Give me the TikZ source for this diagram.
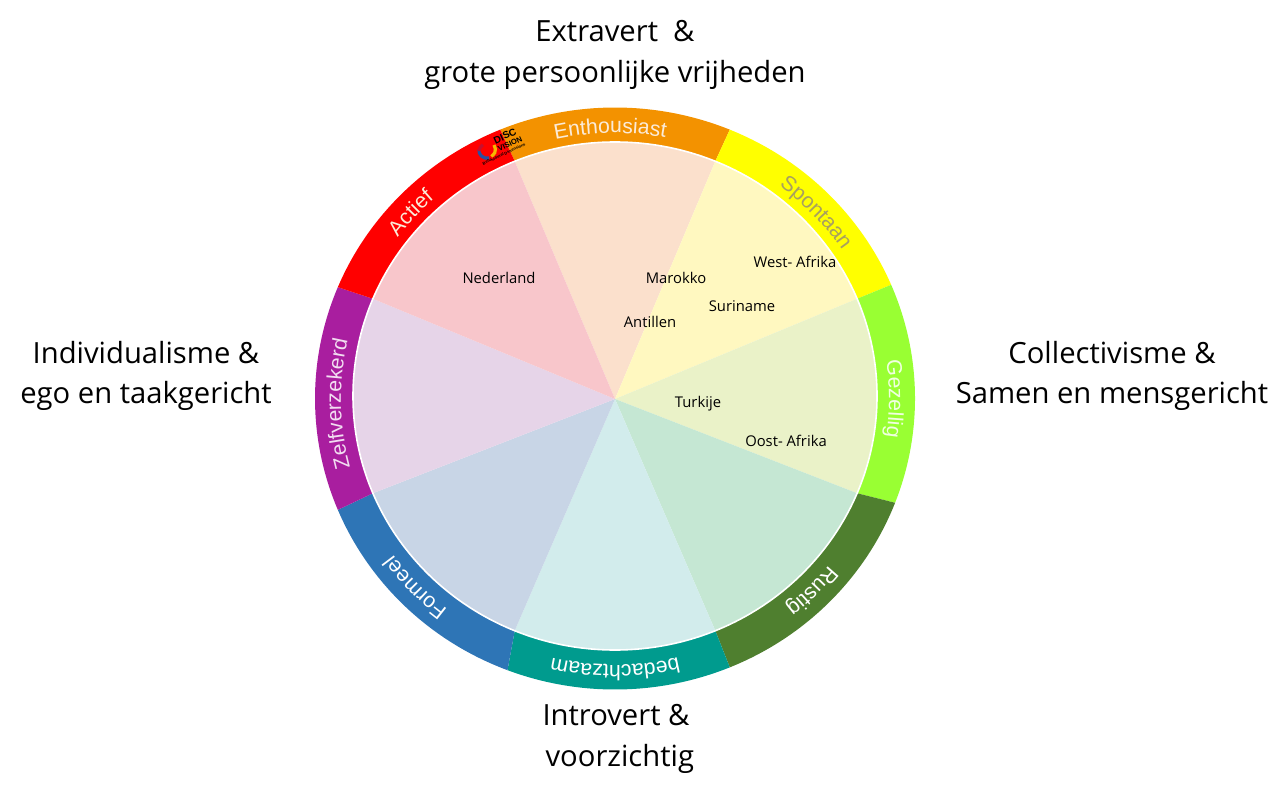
\documentclass[tikz,border=0pt]{standalone}
\usepackage{fontspec}
\setmainfont{Open Sans}
\newfontfamily\ringfont{Liberation Sans}
\usetikzlibrary{calc,decorations.text}

\definecolor{wheelred}{HTML}{FF0000}
\definecolor{wheelorange}{HTML}{F39200}
\definecolor{wheelyellow}{HTML}{FFFF00}
\definecolor{wheellime}{HTML}{99FF33}
\definecolor{wheelgreen}{HTML}{4F7F2F}
\definecolor{wheelteal}{HTML}{009B8E}
\definecolor{wheelblue}{HTML}{2E75B6}
\definecolor{wheelpurple}{HTML}{A91E9F}
\definecolor{palered}{HTML}{F8C6CB}
\definecolor{paleorange}{HTML}{FBE0CC}
\definecolor{paleyellow}{HTML}{FFF8C0}
\definecolor{palelime}{HTML}{EAF2C8}
\definecolor{palegreen}{HTML}{C5E7D3}
\definecolor{paleteal}{HTML}{D2ECEC}
\definecolor{paleblue}{HTML}{C8D5E6}
\definecolor{palepurple}{HTML}{E6D4E8}
\definecolor{ringgrey}{HTML}{A8A060}
\definecolor{ringcream}{HTML}{FBEBD8}
\definecolor{logoyellow}{HTML}{F5B800}
\definecolor{logoblue}{HTML}{2B4FA0}
\definecolor{logored}{HTML}{C8102E}

\tikzset{
  heading/.style={align=center, font=\fontsize{14.6}{20.2}\selectfont, text=black, inner sep=0pt},
  country/.style={font=\fontsize{7.4}{9}\selectfont, text=black, inner sep=0pt},
  logotext/.style={font=\ringfont\bfseries\fontsize{#1}{#1}\selectfont, text=black, inner sep=0pt, rotate=25},
  logoarc/.style={line width=1.6pt},
}

\begin{document}
\begin{tikzpicture}[x=0.5pt, y=-0.5pt]
\useasboundingbox (0,0) rectangle (1288,796);

% Wheel
\coordinate (hub) at (615,399);
\coordinate (rimhub) at (615,398.5);
\coordinate (innerhub) at (615,396);
\foreach \from/\to/\outfrom/\outto/\ringcol/\palecol in {
  67.5/112.5/67.5/112.5/wheelorange/paleorange, 22.5/67.5/23/67.5/wheelyellow/paleyellow,
  -22.5/22.5/-21/23/wheellime/palelime, -67.5/-22.5/-67.5/-21/wheelgreen/palegreen,
  -112.5/-67.5/-111/-67.5/wheelteal/paleteal, -157.5/-112.5/-157.5/-111/wheelblue/paleblue,
  157.5/202.5/157.5/202.5/wheelpurple/palepurple, 112.5/157.5/112.5/157.5/wheelred/palered} {
  % y axis points down, so the angles are mirrored here
  \fill[\ringcol] ($(rimhub)+({300*cos(\outfrom)},{-291*sin(\outfrom)})$)
    arc[start angle=-\outfrom, end angle=-\outto, x radius=300, y radius=291]
    -- ($(innerhub)+({262*cos(\to)},{-254*sin(\to)})$)
    arc[start angle=-\to, end angle=-\from, x radius=262, y radius=254] -- cycle;
  \fill[\palecol] (hub) -- ($(innerhub)+({262*cos(\from)},{-254*sin(\from)})$)
    arc[start angle=-\from, end angle=-\to, x radius=262, y radius=254] -- cycle;
}
\draw[white, line width=0.8pt] (innerhub) ellipse[x radius=262, y radius=254];

% Ring labels
\foreach \from/\to/\ringcol/\ringtext in {
  160/114/ringcream/Actief, 113/69/ringcream/Enthousiast, 65.5/21.5/ringgrey/Spontaan,
  22/-22/white!85!wheellime/Gezellig, -23/-67/white/Rustig, -68/-112/white/bedachtzaam,
  -114/-158/white/Formeel, -157/-201/white!85!wheelpurple/Zelfverzekerd} {
  \path[decorate, decoration={text along path, text align=center, raise=0pt,
      text={|\ringfont\fontsize{10.6}{10.6}\selectfont\color{\ringcol}|\ringtext}}]
    ($(hub)+({274*cos(\from)},{-266*sin(\from)})$)
    arc[start angle=-\from, end angle=-\to, x radius=274, y radius=266];
}

% Logo
\coordinate (logohub) at (487,150);
\draw[logoarc, logoyellow] ($(logohub)+(7,-5)$) arc[start angle=-35, end angle=60, radius=8];
\draw[logoarc, logoblue] ($(logohub)+(2,8)$) arc[start angle=75, end angle=185, radius=8];
\draw[logoarc, logored] ($(logohub)+(-8,1)$) arc[start angle=185, end angle=240, radius=8];
\node[logotext=5] (logodisc) at (505,136) {DISC};
\node[logotext=3.8] (logovision) at (510,144) {VISION};
\node[logotext=2] (logoline) at (504,154) {Behavioural Dimensions};

% Countries
\node[country] (nederland) at (499,278) {Nederland};
\node[country] (marokko) at (676,278) {Marokko};
\node[country] (westafrika) at (795,262) {West- Afrika};
\node[country] (suriname) at (742,306) {Suriname};
\node[country] (antillen) at (650,322) {Antillen};
\node[country] (turkije) at (698,404) {Turkije};
\node[country] (oostafrika) at (786,441) {Oost- Afrika};

% Headings
\node[heading] (extravert) at (615,55) {Extravert\ \ \&\\grote persoonlijke vrijheden};
\node[heading] (individualisme) at (146,376) {Individualisme \&\\ego en taakgericht};
\node[heading] (collectivisme) at (1112,376) {Collectivisme \&\\Samen en mensgericht};
\node[heading] (introvert) at (616,739) {Introvert \&\\\ voorzichtig};
\end{tikzpicture}
\end{document}
